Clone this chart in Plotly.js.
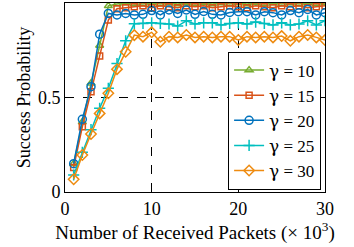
<!DOCTYPE html>
<html>
<head>
<meta charset="utf-8">
<script src="https://cdn.plot.ly/plotly-3.0.1.min.js"></script>
<style>html,body{margin:0;padding:0;background:#fff;}#chart{width:354px;height:247px;}</style>
</head>
<body>
<div id="chart"></div>
<script>
var packets = [1,2,3,4,5,6,7,8,9,10,11,12,13,14,15,16,17,18,19,20,21,22,23,24,25,26,27,28,29,30];
var gamma10 = [0.15,0.37,0.575,0.775,0.985,0.995,1.0,0.995,0.995,1.0,0.995,1.0,0.995,1.0,0.995,1.0,0.995,1.0,0.995,1.0,0.995,1.0,0.995,1.0,0.995,1.0,0.995,1.0,0.995,1.0];
var gamma15 = [0.13,0.345,0.53,0.72,0.91,0.97,0.975,0.98,0.985,0.975,0.985,0.98,0.975,0.985,0.98,0.985,0.975,0.98,0.985,0.98,0.975,0.985,0.98,0.975,0.985,0.98,0.985,0.975,0.98,0.985];
var gamma20 = [0.15,0.385,0.557,0.835,0.945,0.937,0.945,0.937,0.94,0.96,0.937,0.963,0.945,0.963,0.94,0.955,0.94,0.937,0.95,0.954,0.954,0.937,0.954,0.949,0.937,0.96,0.949,0.966,0.937,0.949];
var gamma25 = [0.09,0.21,0.33,0.443,0.549,0.68,0.80,0.89,0.892,0.895,0.892,0.889,0.878,0.906,0.889,0.895,0.895,0.884,0.892,0.895,0.889,0.899,0.892,0.884,0.895,0.884,0.889,0.906,0.884,0.906];
var gamma30 = [0.067,0.196,0.307,0.416,0.522,0.65,0.742,0.83,0.822,0.845,0.795,0.822,0.818,0.831,0.818,0.822,0.818,0.822,0.822,0.804,0.822,0.818,0.822,0.818,0.825,0.80,0.822,0.831,0.818,0.804];
var gammaValues = ['10','15','20','25','30'];

var colors = ['#77AC30','#D95319','#0072BD','#00BFBF','#EE8B10'];
var symbols = ['triangle-up-open','square-open','circle-open','cross-thin','diamond-open'];
var sizes = [7,6,8,8,8];
var data = [gamma10,gamma15,gamma20,gamma25,gamma30].map(function(ys,i){
  return {
    x: packets, y: ys,
    name: '<span style="font-family:DejaVu Serif">γ</span> = ' + gammaValues[i],
    type: 'scatter', mode: 'lines+markers',
    line: {color: colors[i], width: 1.5},
    marker: {symbol: symbols[i], size: sizes[i], color: colors[i], line: {color: colors[i], width: 1.5}}
  };
});

var fontFam = 'Liberation Serif';
var layout = {
  width: 354, height: 247,
  margin: {l: 65, r: 29, t: 3, b: 55},
  paper_bgcolor: '#fff', plot_bgcolor: '#fff',
  font: {family: fontFam, size: 18, color: '#000'},
  showlegend: true,
  legend: {x: 0.985, y: 0.743, xanchor: 'right', yanchor: 'top', bgcolor: '#fff', bordercolor: '#000', borderwidth: 1,
           font: {family: fontFam, size: 17, color: '#000'}, tracegroupgap: 0, itemwidth: 30},
  xaxis: {
    range: [0, 30], tickvals: [0,10,20,30], ticktext: ['0','10','20','30'],
    showline: true, mirror: 'ticks', linecolor: '#000', linewidth: 1,
    ticks: 'inside', ticklen: 4, tickcolor: '#000',
    showgrid: true, gridcolor: '#000', gridwidth: 1, griddash: 'dash', zeroline: false,
    tickfont: {family: fontFam, size: 18},
    title: {text: 'Number of Received Packets (× 10<sup>3</sup>)', font: {family: fontFam, size: 19}, standoff: 4}
  },
  yaxis: {
    range: [0, 1], tickvals: [0,0.5,1], ticktext: ['0','0.5','1'],
    showline: true, mirror: 'ticks', linecolor: '#000', linewidth: 1,
    ticks: 'inside', ticklen: 4, tickcolor: '#000',
    showgrid: true, gridcolor: '#000', gridwidth: 1, griddash: 'dash', zeroline: false,
    tickfont: {family: fontFam, size: 18},
    title: {text: 'Success Probability', font: {family: fontFam, size: 18}, standoff: 2}
  }
};
Plotly.newPlot('chart', data, layout, {displayModeBar: false, staticPlot: true});
</script>
</body>
</html>
